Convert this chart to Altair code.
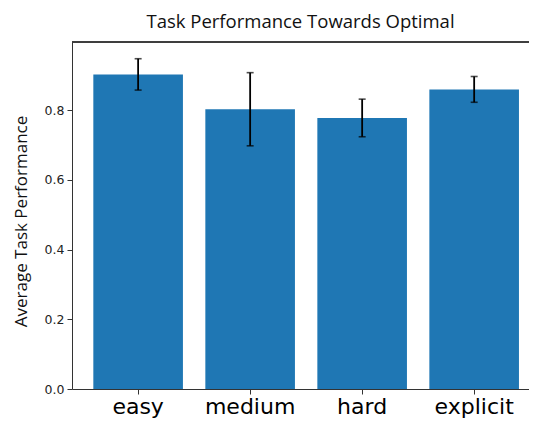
import altair as alt
import pandas as pd

categories = ["easy", "medium", "hard", "explicit"]
means = [0.903, 0.803, 0.778, 0.860]
errors = [0.045, 0.105, 0.054, 0.037]

df = pd.DataFrame({"cat": categories, "mean": means, "err": errors})
df["lo"] = df["mean"] - df["err"]
df["hi"] = df["mean"] + df["err"]

W = 457
H = 347
YTITLE = "Average Task Performance"

xenc = alt.X(
    "cat:N",
    sort=categories,
    title=None,
    scale=alt.Scale(paddingInner=0.2, paddingOuter=0.14, align=0.68),
    axis=alt.Axis(
        labelFont="DejaVu Sans", labelFontSize=22, labelColor="black",
        labelAngle=0, labelPadding=2, tickColor="#333", tickSize=5,
        domainColor="#333", domainWidth=1,
    ),
)

yscale = alt.Scale(domain=[0, 0.996], nice=False, zero=True)
yaxis = alt.Axis(
    values=[0, 0.2, 0.4, 0.6, 0.8], format=".1f", grid=False,
    labelFont="DejaVu Sans", labelFontSize=12.5, labelColor="#222",
    tickColor="#333", tickSize=5, labelPadding=3,
    domainColor="#333", domainWidth=1,
    titleFont="Open Sans", titleFontSize=17, titleFontWeight="normal",
    titleColor="#111", titleAngle=270, titleX=-51, titleY=179,
    titleAlign="center", titleBaseline="middle",
)

base = alt.Chart(df)

bars = base.mark_bar(color="#1f77b4").encode(
    x=xenc, y=alt.Y("mean:Q", scale=yscale, axis=yaxis, title=YTITLE)
)
rules = base.mark_rule(color="black", strokeWidth=1.8).encode(
    x=xenc, y=alt.Y("lo:Q", scale=yscale, axis=yaxis, title=YTITLE), y2="hi:Q"
)
cap_lo = base.mark_tick(color="black", thickness=1.6, size=7, orient="horizontal").encode(
    x=xenc, y=alt.Y("lo:Q", scale=yscale, axis=yaxis, title=YTITLE)
)
cap_hi = base.mark_tick(color="black", thickness=1.6, size=7, orient="horizontal").encode(
    x=xenc, y=alt.Y("hi:Q", scale=yscale, axis=yaxis, title=YTITLE)
)
top_spine = base.mark_rule(color="#333", strokeWidth=1).encode(
    x=alt.value(0), x2=alt.value(W), y=alt.value(0)
)

chart = alt.layer(bars, rules, cap_lo, cap_hi, top_spine).properties(
    width=W,
    height=H,
    autosize=alt.AutoSizeParams(type="none"),
    padding={"left": 64, "top": 34, "right": 0, "bottom": 31},
    title=alt.TitleParams(
        "Task Performance Towards Optimal", font="Open Sans", fontSize=18.5,
        fontWeight="normal", color="#111", anchor="middle", offset=10,
    ),
).configure_view(stroke=None)

chart.save("out.html", embed_options={"renderer": "svg", "actions": False})
